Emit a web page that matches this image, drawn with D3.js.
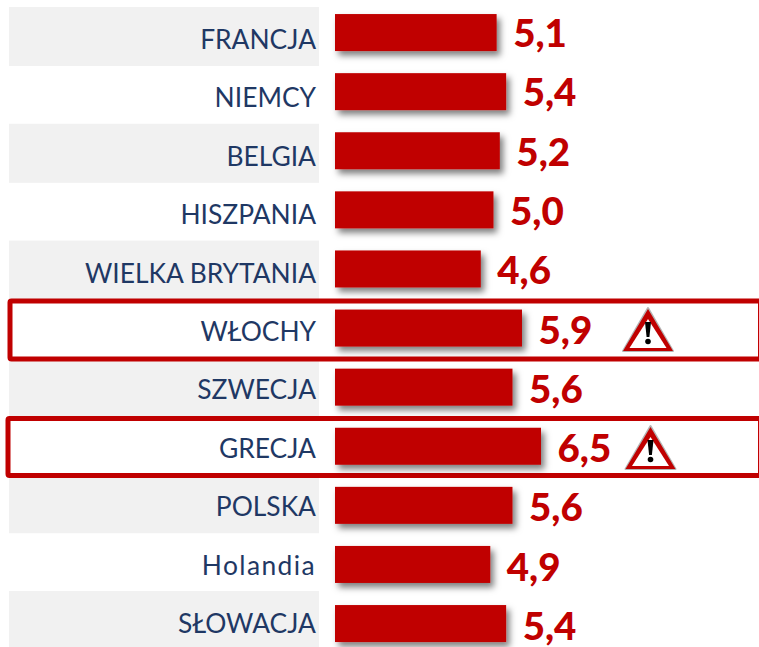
<!DOCTYPE html>
<html><head><meta charset="utf-8">
<script src="https://cdnjs.cloudflare.com/ajax/libs/d3/7.8.5/d3.min.js"></script>
<style>html,body{margin:0;padding:0;background:#fff;overflow:hidden}svg{display:block}text{font-family:Lato,"Open Sans",sans-serif}</style>
</head><body><script>
const categories = ["FRANCJA","NIEMCY","BELGIA","HISZPANIA","WIELKA BRYTANIA","WŁOCHY","SZWECJA","GRECJA","POLSKA","Holandia","SŁOWACJA"];
const values = [5.1,5.4,5.2,5.0,4.6,5.9,5.6,6.5,5.6,4.9,5.4];
const flagged = ["WŁOCHY","GRECJA"];

const W=759,H=647,red="#c00000",navy="#1f3864";
const svg=d3.select("body").append("svg").attr("width",W).attr("height",H);
const defs=svg.append("defs");
const f=defs.append("filter").attr("id","sh").attr("x","-10%").attr("y","-30%").attr("width","125%").attr("height","170%");
f.append("feDropShadow").attr("dx",3.5).attr("dy",4.5).attr("stdDeviation",3).attr("flood-color","#000").attr("flood-opacity",0.5);

const x=d3.scaleLinear().domain([0,6.5]).range([335,541]);
const rowY=d3.scaleBand().domain(categories).range([7,7+58.4*11]);
const barY=d3.scaleBand().domain(categories).range([3,3+59.1*11]).paddingInner(0.374).paddingOuter(0.187);
const valY=d3.scaleBand().domain(categories).range([18,18+59.3*11]);

svg.append("g").selectAll("rect").data(categories.filter((d,i)=>i%2===0)).join("rect")
  .attr("x",9).attr("y",d=>rowY(d)).attr("width",310).attr("height",59).attr("fill","#f1f1f1");

const boxes={"WŁOCHY":[10,301,790,58],"GRECJA":[8,418.5,790,57]};
svg.append("g").selectAll("rect").data(flagged).join("rect")
  .attr("x",d=>boxes[d][0]).attr("y",d=>boxes[d][1]).attr("width",d=>boxes[d][2]).attr("height",d=>boxes[d][3])
  .attr("rx",1.5).attr("fill","#fff").attr("stroke",red).attr("stroke-width",5);
svg.append("g").selectAll("line").data(flagged).join("line")
  .attr("x1",758.5).attr("x2",758.5).attr("y1",d=>boxes[d][1]).attr("y2",d=>boxes[d][1]+boxes[d][3]).attr("stroke",red).attr("stroke-width",1);

svg.append("g").selectAll("text").data(categories).join("text")
  .attr("x",316).attr("y",d=>rowY(d)+42).attr("text-anchor","end").attr("fill",navy).attr("font-size",26.4)
  .attr("letter-spacing",d=>d===d.toUpperCase()?0:1.4).text(d=>d);

svg.append("g").attr("filter","url(#sh)").selectAll("rect").data(categories).join("rect")
  .attr("x",x(0)).attr("y",d=>barY(d)).attr("width",(d,i)=>x(values[i])-x(0)).attr("height",barY.bandwidth()).attr("fill",red);

svg.append("g").selectAll("text").data(categories).join("text")
  .attr("x",(d,i)=>x(values[i])+16.5).attr("y",d=>valY(d)+29).attr("fill",red).attr("font-size",38.5).attr("font-weight",900)
  .text((d,i)=>d3.format(".1f")(values[i]).replace(".",","));

const iconX={"WŁOCHY":648,"GRECJA":650.5}, iconY={"WŁOCHY":307,"GRECJA":425};
const icon=svg.append("g").selectAll("g").data(flagged).join("g").attr("transform",d=>`translate(${iconX[d]},${iconY[d]})`);
icon.append("path").attr("d","M0,1 L25,44 L-25,44 Z").attr("fill","#b5b5b5").attr("stroke","#b5b5b5").attr("stroke-width",2).attr("stroke-linejoin","round");
icon.append("path").attr("d","M0,2 L25,44 L-25,44 Z").attr("fill",red);
icon.append("path").attr("d","M0,12 L-18.5,41 L18.5,41 Z").attr("fill","#fff");
icon.append("path").attr("d","M-3,15 L3,15 L1.4,30 L-1.4,30 Z").attr("fill","#000");
icon.append("circle").attr("cy",34.5).attr("r",2.8).attr("fill","#000");
</script></body></html>
